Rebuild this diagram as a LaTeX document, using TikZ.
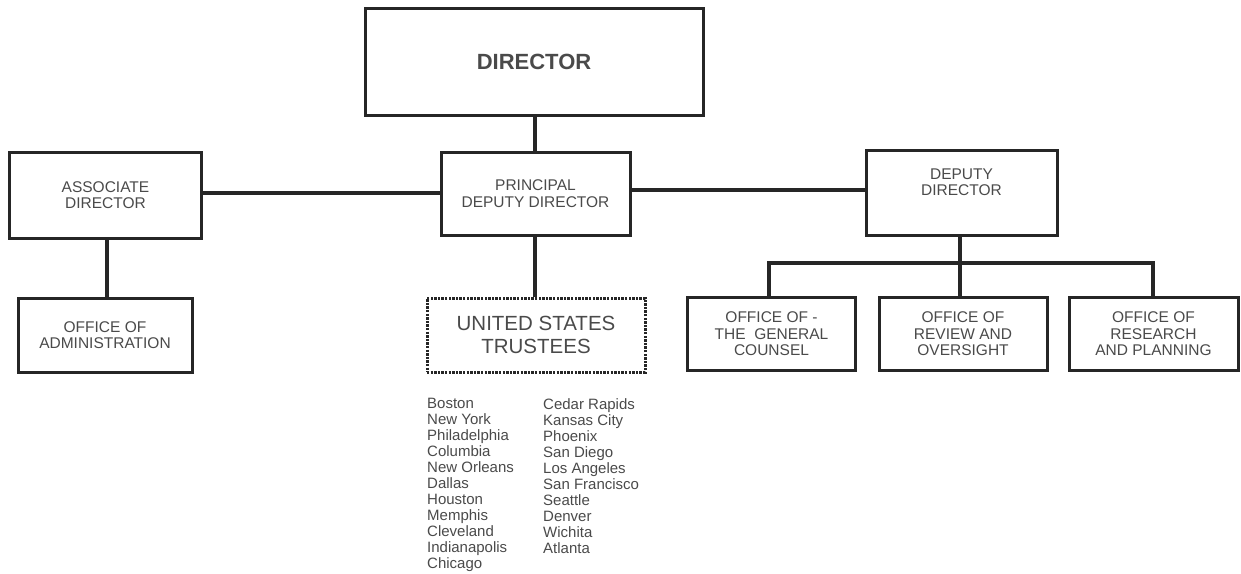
\documentclass[tikz,border=0pt]{standalone}
\usepackage{fontspec}
\setmainfont{Liberation Sans}
\definecolor{txt}{HTML}{4A4A4A}
\definecolor{ln}{HTML}{262626}
\begin{document}
\begin{tikzpicture}[x=1pt,y=-1pt,
  box/.style={draw=ln,line width=3pt,rectangle,inner sep=0pt,align=center,text=txt,
    font=\fontsize{15.5}{16.5}\selectfont},
  dotbox/.style={box,dash pattern=on 2.4pt off 1.2pt,line width=3pt,font=\fontsize{20.5}{23}\selectfont},
  conn/.style={draw=ln,line width=3.4pt},
  cities/.style={anchor=north west,align=left,inner sep=0pt,text=txt,font=\fontsize{15}{16}\selectfont}]
\useasboundingbox (0,0) rectangle (1241,573);
\node[box,minimum width=338pt,minimum height=107pt,font=\fontsize{22}{24}\selectfont\bfseries] (dir) at (534,61.5) {DIRECTOR};
\node[box,minimum width=192pt,minimum height=86pt] (assoc) at (105.5,195) {ASSOCIATE\\DIRECTOR};
\node[box,minimum width=189pt,minimum height=83pt] (pdd) at (535.5,193.5) {PRINCIPAL\\DEPUTY DIRECTOR};
\node[box,minimum width=191pt,minimum height=85pt] (dd) at (961.5,192.5) {DEPUTY\\DIRECTOR\\[4pt]};
\node[box,minimum width=174pt,minimum height=74pt] (oa) at (105,335) {OFFICE OF\\ADMINISTRATION};
\node[dotbox,minimum width=218pt,minimum height=74pt] (ust) at (536,335) {UNITED STATES\\TRUSTEES};
\node[box,minimum width=168pt,minimum height=73pt] (ogc) at (771.5,334) {OFFICE OF -\\THE \ GENERAL\\COUNSEL};
\node[box,minimum width=168pt,minimum height=73pt] (oro) at (963,334) {OFFICE OF\\REVIEW AND\\OVERSIGHT};
\node[box,minimum width=169pt,minimum height=73pt] (orp) at (1153.5,334) {OFFICE OF\\RESEARCH\\AND PLANNING};
\coordinate (busl) at (769,263);
\coordinate (busr) at (1153,263);
\coordinate (busm) at (960,263);
% connectors
\draw[conn] (dir.south -| 535,0) -- (pdd.north -| 535,0);
\draw[conn] (assoc.east |- 0,193) -- (pdd.west |- 0,193);
\draw[conn] (pdd.east |- 0,190) -- (dd.west |- 0,190);
\draw[conn] (assoc.south -| 107,0) -- (oa.north -| 107,0);
\draw[conn] (pdd.south -| 535,0) -- (ust.north -| 535,0);
\draw[conn] (dd.south -| 960,0) -- (oro.north -| 960,0);
\draw[conn] (ogc.north -| busl) -- (busl) -- (busr) -- (orp.north -| busr);
\node[cities] (c1) at (427,398) {Boston\\New York\\Philadelphia\\Columbia\\New Orleans\\Dallas\\Houston\\Memphis\\Cleveland\\Indianapolis\\Chicago};
\node[cities] (c2) at (543,398) {Cedar Rapids\\Kansas City\\Phoenix\\San Diego\\Los Angeles\\San Francisco\\Seattle\\Denver\\Wichita\\Atlanta};
\end{tikzpicture}
\end{document}
